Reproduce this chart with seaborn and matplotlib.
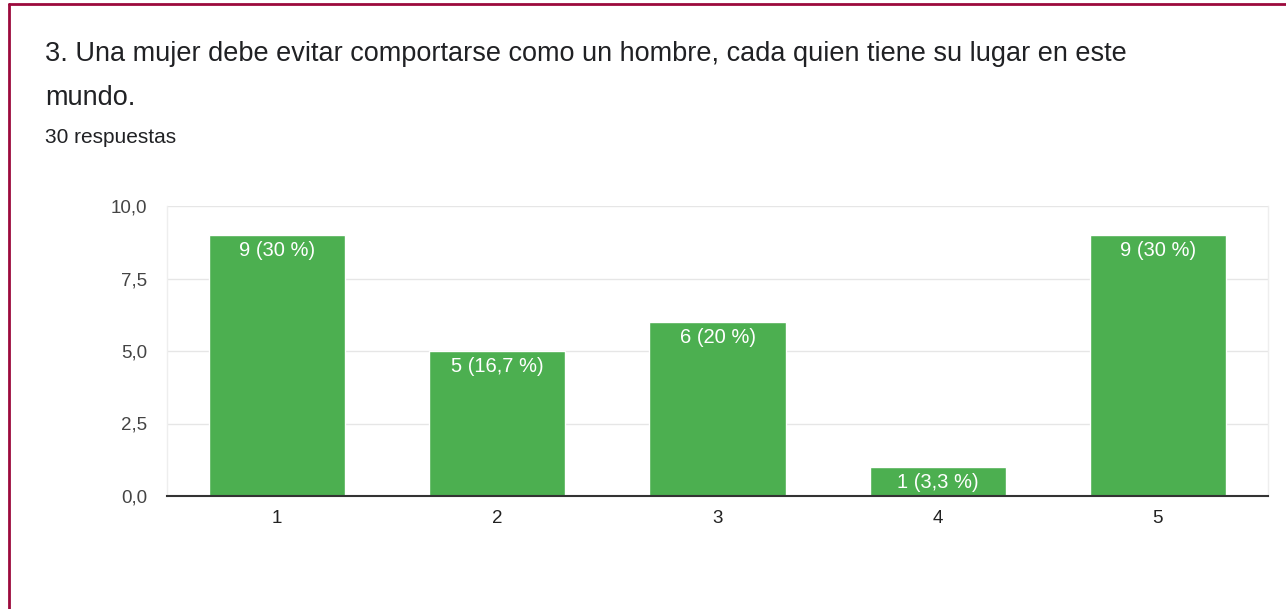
import matplotlib
matplotlib.use("Agg")
import matplotlib.pyplot as plt
import seaborn as sns
import pandas as pd
from matplotlib.lines import Line2D

# Data
categories = ["1", "2", "3", "4", "5"]
counts = [9, 5, 6, 1, 9]
bar_labels = ["9 (30 %)", "5 (16,7 %)", "6 (20 %)", "1 (3,3 %)", "9 (30 %)"]
y_ticks = [0, 2.5, 5, 7.5, 10]
y_tick_labels = ["0,0", "2,5", "5,0", "7,5", "10,0"]

title = "3. Una mujer debe evitar comportarse como un hombre, cada quien tiene su lugar en este\nmundo."
subtitle = "30 respuestas"

df = pd.DataFrame({"opcion": categories, "n": counts})

sns.set_style("white")
plt.rcParams['font.family'] = ['Liberation Sans', 'DejaVu Sans']

fig = plt.figure(figsize=(12.86, 6.09), dpi=100)
ax = fig.add_axes([167 / 1286, 1 - 496 / 609, (1268 - 167) / 1286, (496 - 206) / 609])

sns.barplot(data=df, x="opcion", y="n", color="#4caf50", saturation=1,
            width=0.618, ax=ax, zorder=3)

ax.set_xlim(-0.5, 4.5)
ax.set_ylim(0, 10)
ax.set_yticks(y_ticks)
ax.set_yticklabels(y_tick_labels)
ax.set_xlabel("")
ax.set_ylabel("")
ax.grid(axis="y", color="#e6e6e6", linewidth=1, zorder=0)
ax.tick_params(axis="y", length=0, pad=14, labelsize=13.5, labelcolor="#444444")
ax.tick_params(axis="x", length=0, pad=10, labelsize=13.5, labelcolor="#222222")

ax.spines["top"].set_visible(False)
ax.spines["left"].set_color("#eeeeee")
ax.spines["right"].set_color("#eeeeee")
ax.spines["left"].set_linewidth(1)
ax.spines["right"].set_linewidth(1)
ax.spines["bottom"].set_color("#333333")
ax.spines["bottom"].set_linewidth(1.5)
ax.spines["bottom"].set_zorder(5)

# labels inside top of each bar
for container in ax.containers:
    ax.bar_label(container, labels=bar_labels, label_type="edge", padding=-18,
                 color="white", fontsize=14.5)

fig.text(45 / 1286, 1 - 41 / 609, title, fontsize=19.5, color="#202124",
         va="top", ha="left", linespacing=1.9)
fig.text(45 / 1286, 1 - 137 / 609, subtitle, fontsize=15, color="#202124",
         va="center", ha="left")

# frame of the screenshot
fig.add_artist(Line2D([9 / 1286, 9 / 1286], [0, 1 - 4 / 609], color="#9c0a3c",
                      linewidth=2, transform=fig.transFigure))
fig.add_artist(Line2D([9 / 1286, 1], [1 - 4 / 609, 1 - 4 / 609], color="#9c0a3c",
                      linewidth=2, transform=fig.transFigure))

fig.savefig("out.png", dpi=100)
